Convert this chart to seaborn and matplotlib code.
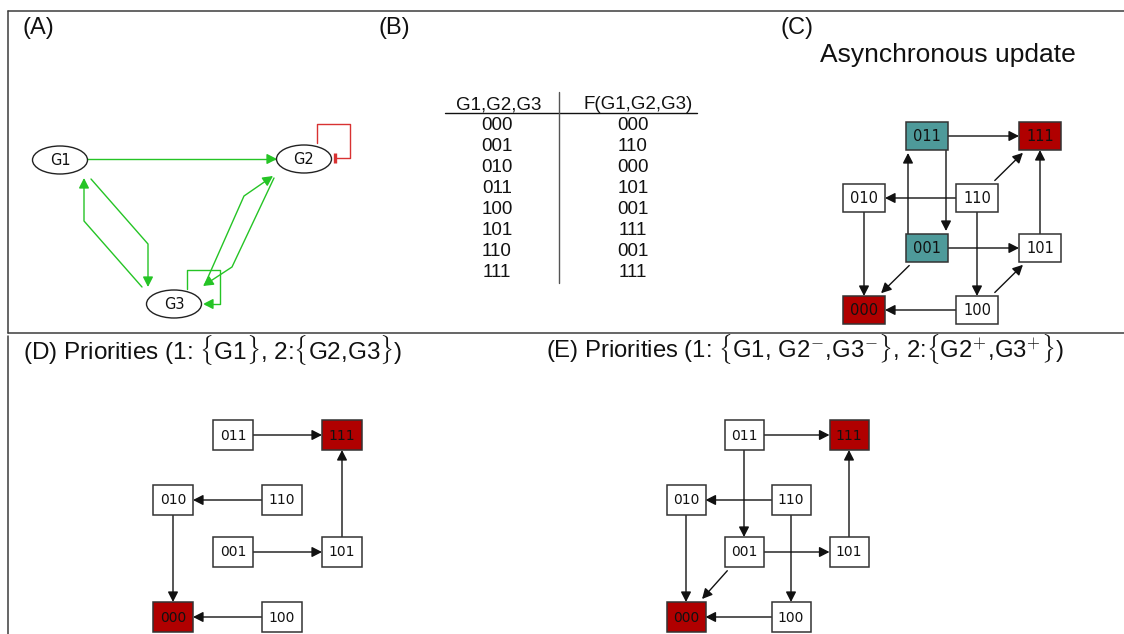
import numpy as np
import matplotlib
matplotlib.use("Agg")
import matplotlib.pyplot as plt
import seaborn as sns
from matplotlib.patches import FancyArrowPatch, Rectangle, Ellipse, ArrowStyle
from matplotlib.path import Path

# ---------------- data ----------------
genes = ["G1", "G2", "G3"]
states = ["000", "001", "010", "011", "100", "101", "110", "111"]
next_states = ["000", "110", "000", "101", "001", "111", "001", "111"]
table_header = ["G1,G2,G3", "F(G1,G2,G3)"]

# regulatory graph: (source, target, sign)
reg_edges = [("G1", "G2", "+"), ("G2", "G2", "-"), ("G1", "G3", "+"), ("G3", "G1", "+"),
             ("G3", "G2", "+"), ("G2", "G3", "+"), ("G3", "G3", "+")]

async_edges = [("011", "111"), ("001", "011"), ("011", "001"), ("110", "111"),
               ("110", "010"), ("110", "100"), ("010", "000"), ("001", "101"),
               ("001", "000"), ("101", "111"), ("100", "000"), ("100", "101")]
prio_d_edges = [("011", "111"), ("110", "010"), ("010", "000"), ("001", "101"),
                ("101", "111"), ("100", "000")]
prio_e_edges = [("011", "111"), ("011", "001"), ("110", "010"), ("110", "100"),
                ("010", "000"), ("001", "101"), ("001", "000"), ("101", "111"),
                ("100", "000")]

async_attractors = {"000": "fixed", "111": "fixed", "001": "cycle", "011": "cycle"}
prio_attractors = {"000": "fixed", "111": "fixed"}

panel_labels = ["(A)", "(B)", "(C)"]
title_c = "Asynchronous update"
title_d = r"(D) Priorities (1: $\{$G1$\}$, 2:$\{$G2,G3$\}$)"
title_e = r"(E) Priorities (1: $\{$G1, G2$^{-}$,G3$^{-}\}$, 2:$\{$G2$^{+}$,G3$^{+}\}$)"

# ---------------- style / layout ----------------
sns.set_theme(style="white")
plt.rcParams["font.family"] = ["Liberation Sans", "DejaVu Sans"]
plt.rcParams["mathtext.fontset"] = "cm"

FILL = {"fixed": "#b00000", "cycle": "#4e9a9a"}
GREEN = "#25c425"
RED = "#d83232"
EDGE = "#333333"
FRAME = "#3c3c3c"

CUBE = {
    "C": dict(origin=(864, 310), ex=(113, 0), ey=(0, -112), ez=(63, -62), w=42, h=28, fs=10.5),
    "D": dict(origin=(173, 617), ex=(109, 0), ey=(0, -117), ez=(60, -65), w=40, h=30, fs=10),
    "E": dict(origin=(686, 617), ex=(105, 0), ey=(0, -117), ez=(58, -65), w=39, h=30, fs=10),
}

REG_NODES = {"G1": (60, 160), "G2": (304, 159), "G3": (174, 304)}
REG_ROUTES = {
    ("G1", "G2"): [(87, 159), (277, 159)],
    ("G2", "G2"): [(317, 143), (317, 124), (350, 124), (350, 158), (335, 158)],
    ("G1", "G3"): [(91, 179), (148, 244), (148, 287)],
    ("G3", "G1"): [(142, 287), (84, 221), (84, 178)],
    ("G3", "G2"): [(205, 284), (244, 196), (273, 176)],
    ("G2", "G3"): [(274, 178), (232, 267), (203, 286)],
    ("G3", "G3"): [(187, 289), (187, 270), (220, 270), (220, 304), (203, 304)],
}

HEAD = ArrowStyle("-|>", head_length=0.55, head_width=0.28)

fig = plt.figure(figsize=(11.24, 6.34), dpi=100)
ax = fig.add_axes([0, 0, 1, 1])
ax.set_xlim(0, 1124)
ax.set_ylim(634, 0)
ax.axis("off")

# frame lines
ax.plot([8, 1124], [11, 11], color=FRAME, lw=1.1)
ax.plot([8, 8], [11, 333], color=FRAME, lw=1.1)
ax.plot([8, 1124], [333, 333], color=FRAME, lw=1.1)
ax.plot([8, 8], [336, 634], color=FRAME, lw=1.1)

# panel labels
for lab, x in zip(panel_labels, [23, 378, 780]):
    ax.text(x, 34, lab, fontsize=17, ha="left", va="baseline", color="#111")

# ---------------- (A) regulatory graph ----------------
for (s, t, sign) in reg_edges:
    pts = REG_ROUTES[(s, t)]
    if sign == "+":
        arr = FancyArrowPatch(path=Path(pts), arrowstyle=HEAD, mutation_scale=11,
                              color=GREEN, lw=1.0, zorder=2)
        ax.add_patch(arr)
    else:
        xs, ys = zip(*pts)
        ax.plot(xs, ys, color=RED, lw=1.0, zorder=2)
        ax.plot([xs[-1], xs[-1]], [ys[-1] - 5, ys[-1] + 5], color=RED, lw=2.4, zorder=2,
                solid_capstyle="butt")
for g in genes:
    x, y = REG_NODES[g]
    ax.add_patch(Ellipse((x, y), 55, 28, facecolor="white", edgecolor="#222", lw=1.0, zorder=3))
    ax.text(x, y + 0.5, g, fontsize=10.5, family="DejaVu Sans", ha="center", va="center",
            color="#111", zorder=4)

# ---------------- (B) truth table ----------------
ax.text(499, 109, table_header[0], fontsize=13.5, ha="center", va="baseline", color="#111")
ax.text(638, 109, table_header[1], fontsize=13.5, ha="center", va="baseline", color="#111")
ax.plot([445, 697], [113, 113], color="#111", lw=1.0)
ax.plot([559, 559], [92, 283], color="#555", lw=1.0)
for i, (s, f) in enumerate(zip(states, next_states)):
    yb = 130 + i * 20.95
    ax.text(497, yb, s, fontsize=13.5, ha="center", va="baseline", color="#111")
    ax.text(633, yb, f, fontsize=13.5, ha="center", va="baseline", color="#111")


# ---------------- state transition graphs ----------------
def cube_pos(s, lay):
    b = [int(c) for c in s]
    ox, oy = lay["origin"]
    x = ox + b[0] * lay["ex"][0] + b[1] * lay["ey"][0] + b[2] * lay["ez"][0]
    y = oy + b[0] * lay["ex"][1] + b[1] * lay["ey"][1] + b[2] * lay["ez"][1]
    return x, y


def draw_stg(lay, edges, attractors):
    pos = {s: cube_pos(s, lay) for s in states}
    es = set(edges)
    hw, hh = lay["w"] / 2, lay["h"] / 2
    for a, b in edges:
        (x0, y0), (x1, y1) = pos[a], pos[b]
        dx, dy = x1 - x0, y1 - y0
        L = np.hypot(dx, dy)
        ux, uy = dx / L, dy / L
        gs, ge = 0.0, 0.0
        if (b, a) in es:
            px, py = -uy, ux
            off = -19
            x0, y0, x1, y1 = x0 + px * off, y0 + py * off, x1 + px * off, y1 + py * off
            ge = 3.0
        tx = hw / abs(dx) if dx else np.inf
        ty = hh / abs(dy) if dy else np.inf
        t = min(tx, ty)
        if dx and dy:
            gs, ge = 5.0, 4.0
        start = (x0 + dx * t + ux * gs, y0 + dy * t + uy * gs)
        end = (x1 - dx * t - ux * ge, y1 - dy * t - uy * ge)
        ax.add_patch(FancyArrowPatch(start, end, arrowstyle=HEAD, mutation_scale=11,
                                     shrinkA=0, shrinkB=0, color="#111", lw=1.0, zorder=2))
    for s in states:
        x, y = pos[s]
        fc = FILL.get(attractors.get(s, ""), "white")
        ax.add_patch(Rectangle((x - hw, y - hh), lay["w"], lay["h"], facecolor=fc,
                               edgecolor=EDGE, lw=1.1, zorder=3))
        ax.text(x, y + 0.5, s, fontsize=lay["fs"], family="DejaVu Sans", ha="center",
                va="center", color="#111", zorder=4)


draw_stg(CUBE["C"], async_edges, async_attractors)
draw_stg(CUBE["D"], prio_d_edges, prio_attractors)
draw_stg(CUBE["E"], prio_e_edges, prio_attractors)

ax.text(948, 62, title_c, fontsize=19, ha="center", va="baseline", color="#111")
ax.text(23, 359, title_d, fontsize=17.5, ha="left", va="baseline", color="#111")
ax.text(546, 358, title_e, fontsize=17.2, ha="left", va="baseline", color="#111")

fig.savefig("out.png", dpi=100)
